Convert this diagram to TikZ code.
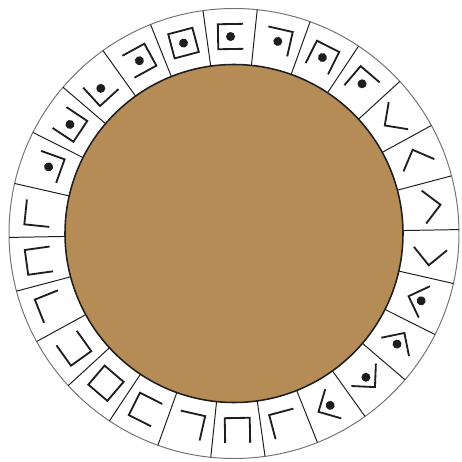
\documentclass[tikz,border=0pt]{standalone}
\usepackage{xcolor}
\usepackage{tikz}
\definecolor{board}{RGB}{181,139,86}
\definecolor{dark}{RGB}{30,30,30}

\begin{document}
\begin{tikzpicture}[
    x=0.025cm, y=0.025cm,
    rim/.style={draw=black!55, line width=0.7pt},
    hub/.style={draw=dark, line width=1.1pt, fill=board},
    divider/.style={draw=dark, line width=0.7pt},
    glyph/.style={draw=dark, line width=1.3pt},
    pip/.style={fill=dark},
    slot/.style={shift={(c)}, rotate=174.08+#1*360/26, shift={(197,0)}, rotate=90, scale=12.5},
]
\useasboundingbox (0,0) rectangle (462,462);
\coordinate (c) at (234,228.5);
\draw[rim] (c) circle (225);
\draw[hub] (c) circle (169);
\foreach \n in {0,...,25}
    \draw[divider, shift={(c)}] (1+\n*360/26:169) -- (1+\n*360/26:225);
\foreach \k/\p in {
    0/{(-1,-1)--(1,-1)--(1,1)},
    1/{(-1,1)--(-1,-1)--(1,-1)--(1,1)},
    2/{(-1,1)--(-1,-1)--(1,-1)},
    3/{(-1,1)--(1,1)--(1,-1)--(-1,-1)},
    4/{(-1,-1) rectangle (1,1)},
    5/{(1,1)--(-1,1)--(-1,-1)--(1,-1)},
    6/{(-1,1)--(1,1)--(1,-1)},
    7/{(-1,-1)--(-1,1)--(1,1)--(1,-1)},
    8/{(1,1)--(-1,1)--(-1,-1)},
    9/{(0.42,1.33)--(-0.92,0)--(0.42,-1.33)},
    10/{(-1.33,0.42)--(0,-0.92)--(1.33,0.42)},
    11/{(-0.42,1.33)--(0.92,0)--(-0.42,-1.33)},
    12/{(-1.33,-0.42)--(0,0.92)--(1.33,-0.42)},
    13/{(0.42,1.33)--(-0.92,0)--(0.42,-1.33)},
    14/{(-1.33,0.42)--(0,-0.92)--(1.33,0.42)},
    15/{(-0.42,1.33)--(0.92,0)--(-0.42,-1.33)},
    16/{(-1.33,-0.42)--(0,0.92)--(1.33,-0.42)},
    17/{(-1,-1)--(1,-1)--(1,1)},
    18/{(-1,1)--(-1,-1)--(1,-1)--(1,1)},
    19/{(-1,1)--(-1,-1)--(1,-1)},
    20/{(-1,1)--(1,1)--(1,-1)--(-1,-1)},
    21/{(-1,-1) rectangle (1,1)},
    22/{(1,1)--(-1,1)--(-1,-1)--(1,-1)},
    23/{(-1,1)--(1,1)--(1,-1)},
    24/{(-1,-1)--(-1,1)--(1,1)--(1,-1)},
    25/{(1,1)--(-1,1)--(-1,-1)}}
    \draw[glyph, slot=\k] \p;
\foreach \k/\q in {9/{(0.15,0)}, 10/{(0,0.15)}, 11/{(-0.15,0)}, 12/{(0,-0.15)},
    17/{(0,0)}, 18/{(0,0)}, 19/{(0,0)}, 20/{(0,0)}, 21/{(0,0)},
    22/{(0,0)}, 23/{(0,0)}, 24/{(0,0)}, 25/{(0,0)}}
    \fill[pip, slot=\k] \q circle (0.36);
\end{tikzpicture}
\end{document}
